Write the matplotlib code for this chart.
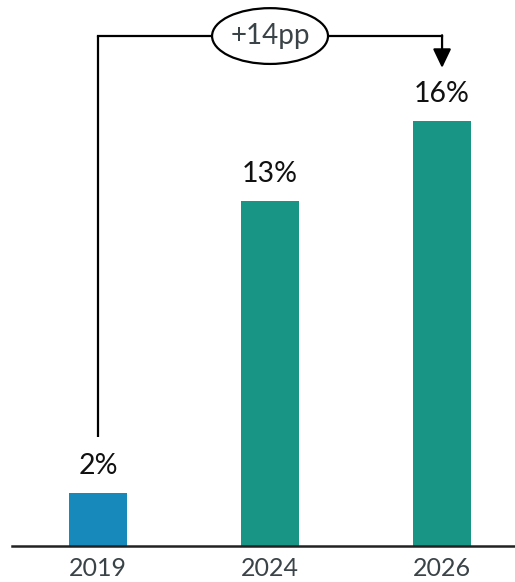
import matplotlib
matplotlib.use("Agg")
import matplotlib.pyplot as plt
from matplotlib.patches import Ellipse

years = ["2019", "2024", "2026"]
shares = [2, 13, 16]
labels = ["2%", "13%", "16%"]
bar_colors = ["#1889bb", "#189584", "#189584"]
change_label = "+14pp"

plt.rcParams["font.family"] = ["Lato", "DejaVu Sans"]

fig = plt.figure(figsize=(5.15, 5.82), dpi=100)
ax = fig.add_axes([12 / 515, 36 / 582, 503 / 515, 546 / 582])

x = list(range(len(years)))
ax.bar(x, shares, width=0.337, color=bar_colors, zorder=2)

for xi, v, lab in zip(x, shares, labels):
    ax.annotate(lab, (xi, v), xytext=(0, 10), textcoords="offset points",
                ha="center", va="bottom", fontsize=20.5, color="#111111")

ax.set_xlim(-0.5, 2.424)
ax.set_ylim(0, 546 / 26.56)

# bracket from the first bar to the last one, with the change in a bubble
top = 19.2
lw = 1.6
ax.plot([x[0], x[0]], [4.1, top], color="black", lw=lw, solid_capstyle="butt")
ax.plot([x[0], x[1] - 0.34], [top, top], color="black", lw=lw)
ax.plot([x[1] + 0.34, x[2]], [top, top], color="black", lw=lw)
ax.annotate("", xy=(x[2], 18.0), xytext=(x[2], top + 0.03),
            arrowprops=dict(arrowstyle="-|>,head_length=1.15,head_width=0.55",
                            color="black", lw=lw, shrinkA=0, shrinkB=0))
ax.add_patch(Ellipse((x[1], top), 0.674, 2.1, facecolor="white",
                     edgecolor="black", lw=lw, zorder=3))
ax.text(x[1], top, change_label, ha="center", va="center", fontsize=20,
        color="#3a4347", zorder=4)

for s in ["top", "right", "left"]:
    ax.spines[s].set_visible(False)
ax.spines["bottom"].set_linewidth(1.8)
ax.spines["bottom"].set_color("#222222")
ax.spines["bottom"].set_zorder(3)
ax.set_yticks([])
ax.set_xticks(x)
ax.set_xticklabels(years, fontsize=18, color="#3a4347")
ax.tick_params(axis="x", length=0, pad=8)

fig.savefig("out.png", dpi=100)
